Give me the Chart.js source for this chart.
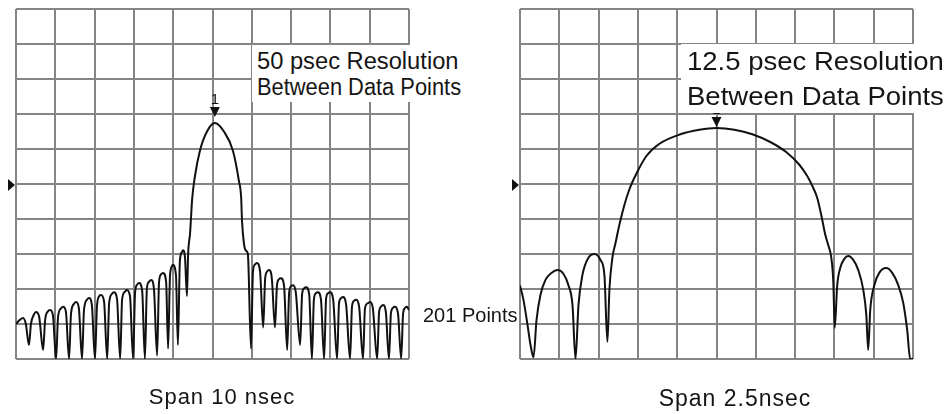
<!DOCTYPE html>
<html><head><meta charset="utf-8">
<script src="https://cdn.jsdelivr.net/npm/chart.js@4.4.1/dist/chart.umd.min.js"></script>
<style>
html,body{margin:0;padding:0;background:#fff;}
#wrap{position:relative;width:948px;height:414px;overflow:hidden;font-family:"Liberation Sans",Arial,sans-serif;color:#151515;}
canvas{position:absolute;top:0;}
#cL{left:0;}
#cR{left:480px;}
.note{position:absolute;background:#fff;white-space:nowrap;box-sizing:border-box;}
.note span{display:inline-block;transform-origin:0 0;}
.lbl{position:absolute;white-space:nowrap;text-align:center;}
</style></head>
<body><div id="wrap">
<canvas id="cL" width="480" height="414"></canvas>
<canvas id="cR" width="468" height="414"></canvas>
<div class="note" style="left:252px;top:45px;width:218px;height:57px;font-size:23px;line-height:26px;padding:3px 0 0 5px;"><span style="transform:scaleX(1.03)">50 psec Resolution</span><br><span style="transform:scaleX(0.95)">Between Data Points</span></div>
<div class="note" style="left:681px;top:44px;width:267px;height:69px;font-size:25px;line-height:35px;padding:0 0 0 6px;"><span style="transform:scaleX(1.1)">12.5 psec Resolution<br>Between Data Points</span></div>
<div class="lbl" style="left:423px;top:305px;font-size:20px;line-height:20px;text-align:left;">201 Points</div>
<div class="lbl" style="left:72px;top:386px;width:300px;font-size:22px;line-height:22px;letter-spacing:1px;">Span 10 nsec</div>
<div class="lbl" style="left:585px;top:387px;width:300px;font-size:23px;line-height:23px;letter-spacing:1px;">Span 2.5nsec</div>
</div>
<script>
// Left trace: 10 ns span (time in ns, level in graticule divisions)
const leftTime = [
 -5.00,-4.90,-4.82,-4.75,-4.67,-4.62,-4.54,-4.49,-4.41,-4.31,-4.26,-4.19,-4.13,-4.06,
 -3.98,-3.93,-3.85,-3.80,-3.73,-3.65,-3.60,-3.52,-3.47,-3.40,-3.32,-3.27,-3.19,-3.14,-3.07,
 -2.99,-2.94,-2.89,-2.84,-2.76,-2.68,-2.63,-2.56,-2.51,-2.43,-2.35,-2.30,-2.23,-2.18,-2.10,
 -2.02,-1.97,-1.92,-1.87,-1.79,-1.72,-1.67,-1.62,-1.56,-1.49,-1.41,-1.36,-1.31,-1.26,-1.18,
 -1.13,-1.08,-1.03,-1.01,-0.93,-0.88,-0.83,-0.78,-0.75,
 -0.70,-0.65,-0.62,-0.57,-0.55,-0.52,-0.45,-0.32,-0.14,0.06,0.29,0.52,0.67,0.73,0.75,0.80,0.85,0.90,
 0.98,1.03,1.08,1.13,1.21,1.29,1.34,1.39,1.44,1.51,1.59,1.64,1.69,1.74,1.82,
 1.90,1.95,2.00,2.05,2.12,2.23,2.28,2.33,2.38,2.46,2.53,2.58,2.63,2.68,2.76,
 2.84,2.89,2.94,2.99,3.07,3.17,3.22,3.27,3.32,3.40,3.50,3.55,3.60,3.65,3.73,
 3.83,3.88,3.96,4.01,4.08,4.19,4.24,4.29,4.34,4.41,4.49,4.54,4.59,4.64,4.72,
 4.80,4.85,4.90,4.95,5.00
];
const leftLevel = [
 1.0,1.12,1.17,1.0,0.4,1.0,1.28,1.34,1.2,0.26,1.1,1.36,1.4,1.25,
 0,1.2,1.45,1.49,1.35,0,1.3,1.58,1.63,1.45,0,1.4,1.7,1.74,1.55,
 0,1.5,1.78,1.83,1.65,0,1.6,1.86,1.91,1.72,0,1.7,1.92,1.97,1.8,
 0,1.9,2.12,2.17,1.95,0,2.0,2.2,2.26,2.0,0.1,2.2,2.42,2.46,2.2,
 0.3,2.4,2.65,2.69,2.4,0.4,2.8,3.05,3.11,
 2.9,1.8,3.0,3.6,3.97,4.54,5.2,5.95,6.5,6.74,6.5,5.95,5.1,4.6,3.97,3.3,3.1,3.0,
 0.3,2.5,2.7,2.74,2.5,0.9,2.3,2.5,2.54,2.3,0.9,2.1,2.28,2.31,2.1,
 0.26,1.9,2.08,2.11,1.9,0.4,1.85,2.02,2.05,1.85,0,1.7,1.88,1.91,1.7,
 0,1.72,1.88,1.91,1.7,0,1.6,1.74,1.77,1.55,0,1.5,1.66,1.69,1.5,
 0,1.45,1.6,1.63,1.45,0,1.35,1.5,1.54,1.35,0,1.3,1.46,1.49,1.3,
 0,1.3,1.46,1.49,1.4
];
// Right trace: 2.5 ns span
const rightTime = [
 -1.250,-1.228,-1.202,-1.183,-1.164,-1.145,-1.120,-1.088,-1.050,-1.012,-0.973,-0.942,-0.916,-0.897,
 -0.878,-0.853,-0.815,-0.776,-0.738,-0.713,-0.694,-0.681,-0.662,-0.643,-0.617,-0.586,-0.554,-0.509,
 -0.446,-0.363,-0.230,-0.109,0.000,0.114,0.228,0.342,0.447,0.527,0.578,0.609,0.641,0.667,0.692,
 0.711,0.730,0.743,0.752,0.768,0.787,0.813,0.838,0.870,0.902,0.934,0.953,0.965,0.978,1.004,
 1.035,1.080,1.118,1.156,1.188,1.213,1.232,1.250
];
const rightLevel = [
 2.1,1.69,0.97,0.4,0.05,1.11,1.83,2.26,2.46,2.54,2.43,2.11,1.54,0,
 1.54,2.4,2.89,3.0,2.83,2.4,0.49,2.0,2.9,3.3,3.85,4.4,4.85,5.3,
 5.8,6.15,6.42,6.55,6.6,6.55,6.42,6.2,5.9,5.55,5.22,4.95,4.6,4.1,3.55,
 3.25,2.9,2.2,0.89,2.11,2.6,2.86,2.94,2.83,2.54,1.97,1.26,0.26,1.4,2.11,
 2.46,2.6,2.46,2.11,1.6,0.83,0,0
];
const leftSpan = 10, rightSpan = 2.5;
const refLevel = 5;
const markerLabel = '1';

const markerPlugin = {
  id: 'markers',
  afterDatasetsDraw(chart, args, opts) {
    const {ctx, chartArea: a, scales: {x, y}} = chart;
    const data = chart.data.datasets[0].data;
    let best = data[0];
    data.forEach(p => { if (p.y > best.y) best = p; });
    const px = x.getPixelForValue(best.x), py = y.getPixelForValue(best.y);
    ctx.save();
    ctx.fillStyle = '#111';
    const tip = py - opts.gap;
    ctx.beginPath();
    ctx.moveTo(px, tip); ctx.lineTo(px - 5, tip - 10); ctx.lineTo(px + 5, tip - 10);
    ctx.closePath(); ctx.fill();
    ctx.font = '15px "Liberation Sans", Arial, sans-serif';
    ctx.textAlign = 'center'; ctx.textBaseline = 'alphabetic';
    ctx.fillText(opts.label, px, tip - 13);
    const ry = y.getPixelForValue(opts.refLevel);
    ctx.beginPath();
    ctx.moveTo(a.left - 1, ry + 1); ctx.lineTo(a.left - 8, ry - 5); ctx.lineTo(a.left - 8, ry + 7);
    ctx.closePath(); ctx.fill();
    ctx.restore();
  }
};

function makeChart(id, times, levels, span, pad, gap) {
  const pts = times.map((t, i) => ({x: t, y: levels[i]}));
  const grid = {color: '#858585', lineWidth: 2, drawTicks: false};
  return new Chart(document.getElementById(id), {
    type: 'line',
    data: {datasets: [{data: pts, borderColor: '#111', borderWidth: 2, pointRadius: 0,
      cubicInterpolationMode: 'monotone', fill: false}]},
    options: {
      responsive: false, animation: false, events: [],
      layout: {padding: pad},
      plugins: {legend: {display: false}, tooltip: {enabled: false},
        markers: {gap: gap, label: markerLabel, refLevel: refLevel}},
      scales: {
        x: {type: 'linear', min: -span / 2, max: span / 2, ticks: {display: false, stepSize: span / 10},
          grid: grid, border: {display: false}},
        y: {type: 'linear', min: 0, max: 10, ticks: {display: false, stepSize: 1},
          grid: grid, border: {display: false}}
      }
    },
    plugins: [markerPlugin]
  });
}

makeChart('cL', leftTime, leftLevel, leftSpan, {left: 16, top: 9, right: 71, bottom: 55}, 6);
makeChart('cR', rightTime, rightLevel, rightSpan, {left: 40, top: 9, right: 35, bottom: 55}, 1);
</script>
</body></html>
